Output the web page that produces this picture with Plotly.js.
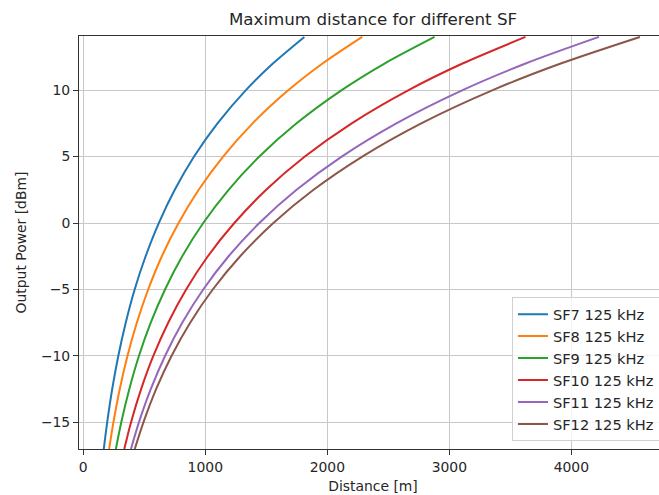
<!DOCTYPE html>
<html>
<head>
<meta charset="utf-8">
<script src="https://cdn.plot.ly/plotly-3.0.1.min.js"></script>
<style>
html,body{margin:0;padding:0;overflow:hidden;background:#fff;}
#chart{width:668px;height:495px;}
</style>
</head>
<body>
<div id="chart"></div>
<script>
const power = [14, 12, 10, 7.5, 5, 2.5, 0, -2.5, -5, -7.5, -10, -12.5, -15, -17];

// Distance [m] read for each spreading factor at the power levels above
const sf7  = [1812, 1554, 1333, 1100, 908, 750, 619, 511, 421, 348, 287, 237, 196, 168];
const sf8  = [2286, 1961, 1682, 1388, 1146, 946, 781, 644, 532, 439, 362, 299, 247, 212];
const sf9  = [2879, 2469, 2118, 1748, 1443, 1191, 983, 811, 670, 553, 456, 377, 311, 267];
const sf10 = [3624, 3108, 2666, 2200, 1816, 1499, 1238, 1021, 843, 696, 574, 474, 391, 336];
const sf11 = [4226, 3625, 3109, 2566, 2118, 1748, 1443, 1191, 983, 811, 670, 553, 456, 391];
const sf12 = [4562, 3913, 3356, 2770, 2287, 1887, 1558, 1286, 1061, 876, 723, 597, 493, 422];

const seriesNames = ["SF7 125 kHz", "SF8 125 kHz", "SF9 125 kHz", "SF10 125 kHz", "SF11 125 kHz", "SF12 125 kHz"];
const seriesData = [sf7, sf8, sf9, sf10, sf11, sf12];
const colors = ["#1f77b4", "#ff7f0e", "#2ca02c", "#d62728", "#9467bd", "#8c564b"];

const traces = seriesData.map((d, i) => ({
  x: d,
  y: power,
  type: "scatter",
  mode: "lines",
  name: seriesNames[i],
  line: {color: colors[i], width: 2, shape: "spline", smoothing: 0.8}
}));

const FAM = "DejaVu Sans, sans-serif";
const TXT = "#262626";

const layout = {
  width: 668,
  height: 495,
  margin: {l: 79, r: 1, t: 36, b: 46},
  paper_bgcolor: "#ffffff",
  plot_bgcolor: "#ffffff",
  font: {family: FAM, color: TXT, size: 14},
  showlegend: true,
  title: {
    text: "Maximum distance for different SF",
    font: {family: FAM, size: 16.7, color: TXT},
    x: 0.5, xref: "paper", xanchor: "center",
    y: 1, yref: "container", yanchor: "top", pad: {t: 13}
  },
  xaxis: {
    range: [-35, 4784],
    tickmode: "linear", tick0: 0, dtick: 1000,
    showgrid: true, gridcolor: "#c8c8c8", gridwidth: 1,
    zeroline: false,
    showline: true, linecolor: "#333333", linewidth: 1, mirror: true,
    ticks: "outside", ticklen: 5, tickcolor: "#333333", tickwidth: 1,
    tickfont: {family: FAM, size: 13.9, color: TXT},
    title: {text: "Distance [m]", font: {family: FAM, size: 13.9, color: TXT}, standoff: 7}
  },
  yaxis: {
    range: [-17, 14.07],
    tickmode: "linear", tick0: 0, dtick: 5,
    showgrid: true, gridcolor: "#c8c8c8", gridwidth: 1,
    zeroline: false,
    showline: true, linecolor: "#333333", linewidth: 1, mirror: true,
    ticks: "outside", ticklen: 5, tickcolor: "#333333", tickwidth: 1,
    tickfont: {family: FAM, size: 13.9, color: TXT},
    title: {text: "Output Power [dBm]", font: {family: FAM, size: 13.9, color: TXT}, standoff: 11}
  },
  legend: {
    x: 0.988, xanchor: "right",
    y: 0.019, yanchor: "bottom",
    bgcolor: "rgba(255,255,255,0.8)",
    bordercolor: "#d0d0d0", borderwidth: 1,
    font: {family: FAM, size: 14.6, color: TXT},
    tracegroupgap: 0,
    itemwidth: 30
  }
};

Plotly.newPlot("chart", traces, layout, {staticPlot: true, displayModeBar: false});
</script>
</body>
</html>
